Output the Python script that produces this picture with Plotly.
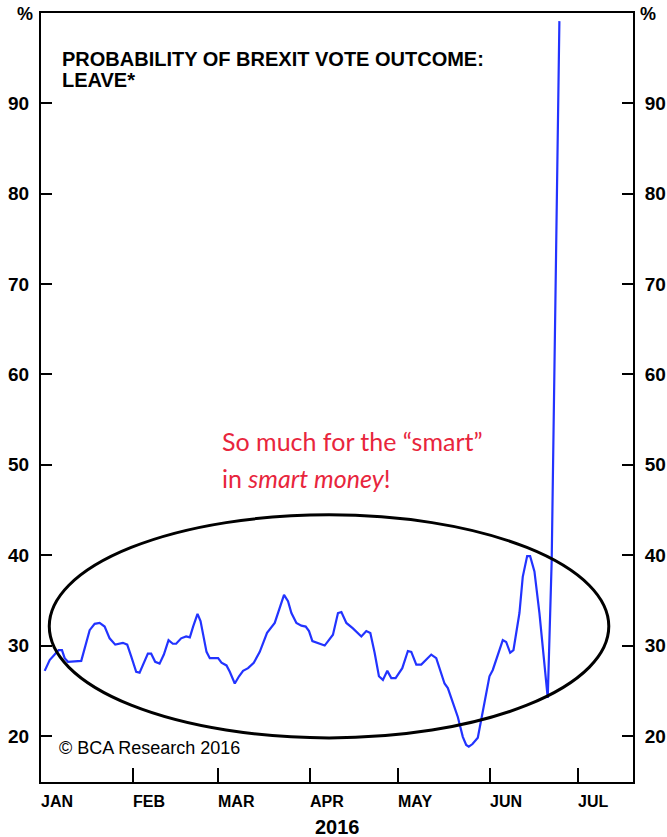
import datetime as dt
import plotly.graph_objects as go

# ---- data ----
# days elapsed since 2016-01-01
day_offsets = [
    1.25, 2.94, 4.63, 5.99, 7.10, 8.02, 9.13, 13.63, 16.48, 18.17,
    19.86, 21.55, 23.24, 25.14, 27.74, 29.20, 30.55, 32.24, 33.39, 34.84,
    36.20, 37.31, 38.67, 40.16, 41.61, 43.20, 44.66, 45.77, 47.46, 49.15,
    50.41, 51.52, 53.01, 54.03, 55.14, 56.06, 57.17, 59.98, 61.13, 62.82,
    63.94, 65.63, 67.08, 68.44, 70.13, 72.06, 74.09, 76.56, 79.16, 80.85,
    82.31, 83.66, 84.81, 86.50, 88.19, 89.65, 90.77, 91.91, 93.81, 96.08,
    98.88, 100.58, 101.73, 103.42, 105.65, 108.49, 110.18, 111.54, 112.99, 114.45,
    115.80, 117.29, 118.64, 120.10, 122.36, 124.26, 125.41, 127.10, 128.79, 132.17,
    133.86, 135.22, 136.67, 137.79, 139.48, 141.17, 142.86, 144.01, 144.89, 146.14,
    147.94, 149.63, 151.89, 153.01, 156.40, 157.54, 158.90, 160.01, 162.04, 163.16,
    164.65, 165.66, 167.12, 168.81, 170.50, 171.62, 172.97, 175.57,
]
leave_prob = [
    27.2, 28.4, 29.0, 29.5, 29.5, 28.6, 28.2, 28.3, 31.7, 32.4,
    32.5, 32.1, 30.8, 30.1, 30.3, 30.1, 28.8, 27.1, 27.0, 28.2,
    29.1, 29.1, 28.2, 28.0, 29.0, 30.6, 30.2, 30.2, 30.8, 31.0,
    30.9, 32.1, 33.5, 32.7, 30.8, 29.3, 28.6, 28.6, 28.1, 27.8,
    27.1, 25.8, 26.6, 27.2, 27.5, 28.1, 29.3, 31.4, 32.5, 34.1,
    35.6, 34.9, 33.6, 32.5, 32.2, 32.1, 31.6, 30.5, 30.3, 30.0,
    31.2, 33.6, 33.7, 32.5, 31.9, 31.0, 31.6, 31.4, 29.2, 26.6,
    26.2, 27.2, 26.4, 26.4, 27.5, 29.4, 29.3, 27.9, 27.9, 29.0,
    28.6, 27.3, 25.8, 25.3, 23.8, 22.1, 19.9, 19.0, 18.8, 19.1,
    19.8, 22.9, 26.6, 27.3, 30.6, 30.4, 29.2, 29.5, 33.6, 37.6,
    39.9, 39.9, 38.2, 33.6, 27.7, 24.2, 39.5, 99.1,
]

month_labels = ["JAN", "FEB", "MAR", "APR", "MAY", "JUN", "JUL"]
month_starts = ["2016-01-01", "2016-02-01", "2016-03-01", "2016-04-01",
                "2016-05-01", "2016-06-01", "2016-07-01"]
y_ticks = [20, 30, 40, 50, 60, 70, 80, 90]

start = dt.datetime(2016, 1, 1)
dates = [start + dt.timedelta(days=d) for d in day_offsets]

# ---- figure ----
W, H = 667, 837
ML, MR, MT, MB = 41, 34, 13, 55
PW, PH = W - ML - MR, H - MT - MB

def px(x):
    return (x - ML) / PW

def py(y):
    return (H - MB - y) / PH

BOLD = "Liberation Sans, Arial, sans-serif"

fig = go.Figure()
fig.add_trace(go.Scatter(
    x=dates, y=leave_prob, mode="lines",
    line=dict(color="#2233ff", width=2.2),
    hoverinfo="skip", showlegend=False,
))
# invisible trace to activate the right-hand axis
fig.add_trace(go.Scatter(
    x=[dates[0]], y=[leave_prob[0]], mode="none", yaxis="y2",
    hoverinfo="skip", showlegend=False,
))

yrange = [14.9, 100.0]
axis_common = dict(
    range=yrange, tickmode="array", tickvals=y_ticks,
    ticks="inside", ticklen=11, tickwidth=2, tickcolor="black",
    showline=True, linewidth=2, linecolor="black",
    showgrid=False, zeroline=False, automargin=False,
    tickfont=dict(family=BOLD, size=19, color="black", weight="bold"),
)

fig.update_layout(
    template="none",
    width=W, height=H,
    margin=dict(l=ML, r=MR, t=MT, b=MB, pad=0, autoexpand=False),
    paper_bgcolor="white", plot_bgcolor="white",
    xaxis=dict(
        type="date",
        range=["2016-01-01", "2016-07-19 12:00"],
        tickmode="array", tickvals=month_starts,
        showticklabels=False, automargin=False,
        ticks="inside", ticklen=14, tickwidth=2, tickcolor="black",
        showline=True, linewidth=2, linecolor="black", mirror=True,
        showgrid=False, zeroline=False,
    ),
    yaxis=dict(side="left", ticklabelstandoff=6, **axis_common),
    yaxis2=dict(side="right", overlaying="y", ticklabelstandoff=6, **axis_common),
)

# ellipse
fig.add_shape(
    type="circle", xref="x", yref="y",
    x0="2016-01-03 19:12", x1="2016-07-11 07:12",
    y0=19.78, y1=44.47,
    line=dict(color="black", width=3),
)

ann = []
for lab, d in zip(month_labels, month_starts):
    ann.append(dict(x=d, xref="x", y=py(801.5), yref="paper",
                    text=lab, showarrow=False, xanchor="left", yanchor="middle",
                    xshift=-2,
                    font=dict(family=BOLD, size=16, color="black", weight="bold")))
ann.append(dict(x=0.5, xref="paper", y=py(826.5), yref="paper", text="2016",
                showarrow=False, xanchor="center", yanchor="middle",
                font=dict(family=BOLD, size=20, color="black", weight="bold")))
ann.append(dict(x=px(24.5), xref="paper", y=py(14), yref="paper", text="%",
                showarrow=False, xanchor="center", yanchor="middle",
                font=dict(family=BOLD, size=18, color="black", weight="bold")))
ann.append(dict(x=px(648), xref="paper", y=py(14), yref="paper", text="%",
                showarrow=False, xanchor="center", yanchor="middle",
                font=dict(family=BOLD, size=18, color="black", weight="bold")))
ann.append(dict(x=px(60), xref="paper", y=py(59), yref="paper",
                text="PROBABILITY OF BREXIT VOTE OUTCOME:",
                showarrow=False, xanchor="left", yanchor="middle",
                font=dict(family=BOLD, size=20, color="black", weight="bold")))
ann.append(dict(x=px(60), xref="paper", y=py(80), yref="paper",
                text="LEAVE*",
                showarrow=False, xanchor="left", yanchor="middle",
                font=dict(family=BOLD, size=20, color="black", weight="bold")))
RED = "#e8253c"
ann.append(dict(x=px(220), xref="paper", y=py(441), yref="paper",
                text="So much for the \u201csmart\u201d",
                showarrow=False, xanchor="left", yanchor="middle",
                font=dict(family="Lato, Open Sans, sans-serif", size=25, color=RED)))
ann.append(dict(x=px(220), xref="paper", y=py(478), yref="paper",
                text="in <i>smart money</i>!",
                showarrow=False, xanchor="left", yanchor="middle",
                font=dict(family="Lato, Open Sans, sans-serif", size=25, color=RED)))
ann.append(dict(x=px(57), xref="paper", y=py(748), yref="paper",
                text="\u00a9 BCA Research 2016",
                showarrow=False, xanchor="left", yanchor="middle",
                font=dict(family=BOLD, size=18, color="black")))
fig.update_layout(annotations=ann)

fig.write_html("out.html", config={"displayModeBar": False},
               post_script="document.body.style.margin='0';")
